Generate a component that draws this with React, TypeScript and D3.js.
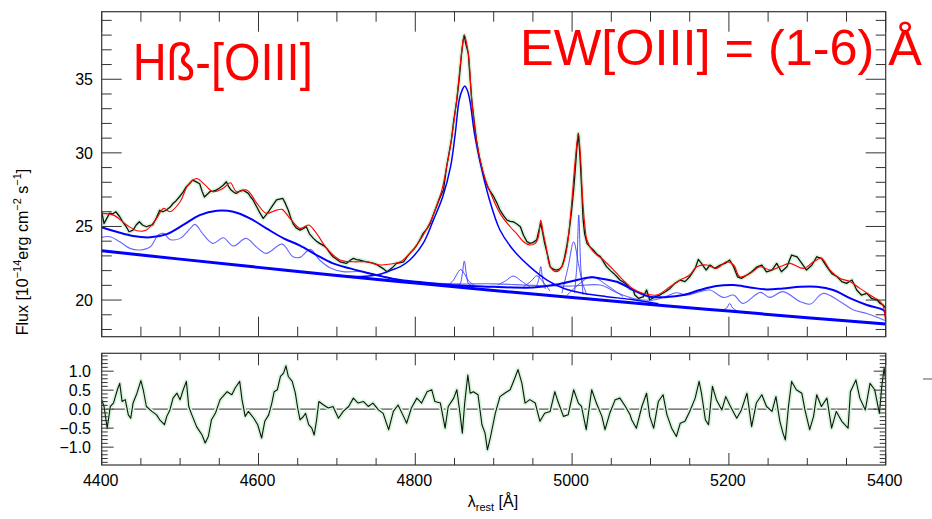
import React from 'react';
import * as d3 from 'd3';

type P = [number, number];

// ---------- axes / ticks ----------
const xDomain: [number, number] = [4400, 5400];
const fluxDomain: [number, number] = [17.51, 39.59];
const resDomain: [number, number] = [-1.47, 1.47];
const xMajorTicks = [4400, 4600, 4800, 5000, 5200, 5400];
const fluxMajorTicks = [20, 25, 30, 35];
const resMajorTicks = [-1.0, -0.5, 0.0, 0.5, 1.0];
const resTickLabels = ['\u22121.0', '\u22120.5', '0.0', '0.5', '1.0'];

// ---------- data ----------
const observed: P[] = [
  [4400, 26.0], [4403, 25.2], [4406, 25.5], [4410, 25.9], [4414, 25.85], [4418, 26.0], [4423, 25.66], [4427, 25.3],
  [4431, 25.0], [4435, 24.64], [4440, 24.75], [4444, 25.1], [4448, 25.32], [4452, 25.1], [4457, 24.98], [4461, 25.05],
  [4465, 25.1], [4470, 25.6], [4474, 26.1], [4478, 26.0], [4482, 26.1], [4487, 26.3], [4491, 26.56], [4495, 26.75],
  [4499, 27.0], [4504, 27.35], [4508, 27.7], [4512, 27.9], [4516, 28.15], [4520, 28.05], [4525, 27.9], [4528, 27.4],
  [4531, 27.0], [4535, 27.2], [4538, 27.36], [4542, 27.4], [4546, 27.47], [4550, 27.6], [4555, 27.8], [4559, 28.04],
  [4562, 27.7], [4565, 27.47], [4569, 27.3], [4572, 27.25], [4576, 27.4], [4580, 27.47], [4584, 27.35], [4587, 27.25],
  [4590, 27.0], [4593, 26.8], [4598, 26.3], [4602, 25.9], [4606, 25.55], [4610, 25.8], [4614, 26.1], [4619, 26.5],
  [4623, 26.8], [4627, 26.85], [4631, 26.9], [4634, 26.6], [4638, 26.1], [4641, 25.6], [4644, 25.2], [4648, 24.9],
  [4653, 24.75], [4657, 24.85], [4661, 24.98], [4665, 24.5], [4670, 24.19], [4674, 24.0], [4678, 23.85], [4683, 23.7],
  [4687, 23.51], [4691, 23.2], [4695, 22.94], [4700, 22.75], [4704, 22.6], [4708, 22.55], [4712, 22.49], [4717, 22.7],
  [4721, 22.83], [4725, 22.75], [4729, 22.72], [4734, 22.65], [4738, 22.6], [4743, 22.55], [4747, 22.49], [4751, 22.4],
  [4755, 22.27], [4760, 22.1], [4764, 21.93], [4768, 22.1], [4772, 22.27], [4776, 22.49], [4781, 22.55], [4785, 22.6],
  [4789, 22.9], [4793, 23.17], [4798, 23.45], [4802, 23.74], [4806, 24.1], [4810, 24.53], [4815, 24.85], [4819, 25.21],
  [4823, 25.8], [4827, 26.34], [4831, 26.9], [4836, 27.5], [4840, 29.06], [4846, 30.87], [4849, 32.2], [4853, 33.59],
  [4856, 35.0], [4859, 36.76], [4861, 37.6], [4862.5, 38.0], [4864, 37.5], [4867.6, 36.76], [4870, 35.0], [4872, 33.59],
  [4875, 32.2], [4878, 30.87], [4882, 29.6], [4888, 28.3], [4893, 27.6], [4900, 27.02], [4904, 26.6], [4908, 26.11],
  [4913, 25.7], [4917, 25.43], [4921, 25.35], [4925, 25.32], [4930, 25.15], [4934, 24.98], [4938, 24.4], [4942, 24.0],
  [4946, 23.85], [4950, 23.9], [4955, 24.1], [4958, 24.8], [4960, 25.2], [4962, 24.7], [4965, 23.85], [4969, 23.0],
  [4972, 22.27], [4976, 22.1], [4980, 22.04], [4984, 22.1], [4987, 22.27], [4990, 22.8], [4993, 23.6], [4996, 24.6],
  [4999, 25.89], [5002, 27.5], [5004, 28.83], [5006, 30.3], [5008, 31.32], [5010, 29.8], [5012, 27.8], [5014, 25.5],
  [5016, 24.5], [5019, 23.85], [5023, 23.6], [5027, 23.4], [5032, 23.1], [5036, 22.95], [5040, 22.6], [5044, 22.27],
  [5049, 22.0], [5053, 21.81], [5057, 21.6], [5061, 21.36], [5066, 21.2], [5070, 21.02], [5074, 20.75], [5078, 20.68],
  [5080, 20.34], [5085, 20.11], [5091, 20.23], [5095, 20.68], [5099, 20.0], [5106, 20.23], [5112, 20.34], [5119, 20.56],
  [5125, 20.79], [5131, 21.13], [5138, 21.36], [5144, 21.25], [5150, 21.58], [5157, 22.15], [5161, 22.76], [5165, 22.49],
  [5171, 22.04], [5176, 22.38], [5182, 22.15], [5189, 22.38], [5195, 22.49], [5201, 22.72], [5206, 22.26], [5211, 21.58],
  [5216, 21.47], [5223, 21.7], [5229, 21.92], [5236, 22.26], [5242, 22.38], [5248, 21.92], [5255, 22.04], [5261, 22.49],
  [5267, 21.92], [5274, 22.26], [5280, 23.06], [5287, 22.94], [5293, 22.49], [5299, 22.04], [5306, 22.38], [5312, 22.94],
  [5318, 22.83], [5325, 22.26], [5331, 21.81], [5338, 21.58], [5344, 21.25], [5350, 21.13], [5357, 21.36], [5363, 20.68],
  [5369, 20.34], [5376, 20.45], [5382, 20.11], [5389, 20.0], [5393, 19.77], [5397, 19.66], [5400, 19.43],
];

const modelTotal: P[] = [
  [4400, 25.89], [4415, 25.77], [4432, 25.1], [4445, 24.71], [4457, 24.76], [4470, 25.55], [4479, 26.23], [4487, 26.0],
  [4500, 26.68], [4510, 27.81], [4521, 28.26], [4532, 27.81], [4542, 27.36], [4555, 27.59], [4564, 27.97], [4572, 27.36],
  [4585, 27.47], [4598, 26.57], [4610, 25.89], [4623, 26.11], [4630, 26.16], [4640, 25.55], [4653, 24.87], [4664, 25.1],
  [4674, 24.53], [4687, 23.51], [4704, 22.72], [4721, 22.6], [4738, 22.6], [4755, 22.38], [4768, 22.45], [4781, 22.6],
  [4789, 22.95], [4800, 23.6], [4810, 24.4], [4820, 25.4], [4827, 26.4], [4834, 27.5], [4840, 29.06], [4846, 30.87],
  [4852.7, 33.59], [4859, 36.76], [4862.5, 38.0], [4867.6, 36.76], [4872, 33.59], [4878, 30.87], [4884.7, 29.06],
  [4890, 28.1], [4895, 27.4], [4908, 25.89], [4921, 24.98], [4929, 24.53], [4938, 23.96], [4946, 23.74], [4953, 23.85],
  [4957, 24.3], [4960, 25.43], [4963, 24.6], [4967, 23.6], [4972, 22.27], [4980, 21.93], [4987, 22.27], [4993, 23.4],
  [4999, 26.34], [5004, 29.51], [5008, 31.32], [5011, 29.5], [5013, 27.25], [5016, 25.2], [5019, 24.08], [5027, 23.28],
  [5040, 22.72], [5053, 22.04], [5065, 21.36], [5078, 20.75], [5091, 20.45], [5108, 20.34], [5125, 20.9], [5138, 21.36],
  [5150, 21.7], [5159, 22.26], [5172, 22.38], [5184, 22.15], [5197, 22.6], [5206, 22.38], [5214, 21.58], [5227, 21.81],
  [5240, 22.26], [5253, 22.04], [5265, 22.26], [5278, 22.49], [5295, 22.15], [5308, 22.6], [5318, 22.83], [5329, 22.04],
  [5342, 21.47], [5355, 21.25], [5367, 20.79], [5380, 20.34], [5393, 19.89], [5397, 19.55], [5399, 18.87], [5400, 18.6],
];

const powerLaw: P[] = [
  [4400, 23.35], [4500, 22.78], [4600, 22.22], [4700, 21.66], [4800, 21.15], [4900, 20.65], [5000, 20.17],
  [5100, 19.7], [5200, 19.25], [5300, 18.8], [5400, 18.37],
];

const pseudoContinuum: P[] = [
  [4400, 24.95], [4419, 24.64], [4440, 24.35], [4462, 24.26], [4483, 24.48], [4504, 25.1], [4525, 25.77], [4547, 26.07],
  [4568, 26.0], [4589, 25.55], [4610, 24.87], [4632, 24.19], [4653, 23.7], [4674, 23.06], [4695, 22.49], [4717, 22.15],
  [4738, 21.86], [4759, 21.59], [4781, 21.36], [4810, 21.2], [4850, 21.0], [4900, 20.9], [4950, 20.85], [4980, 21.05],
  [5005, 21.35], [5025, 21.55], [5036, 21.47], [5057, 21.24], [5078, 20.68], [5099, 20.23], [5121, 20.2], [5142, 20.34],
  [5163, 20.68], [5184, 20.95], [5206, 21.02], [5227, 20.86], [5248, 20.72], [5269, 20.79], [5291, 20.9], [5312, 20.9],
  [5333, 20.68], [5355, 20.11], [5376, 19.66], [5397, 19.32], [5400, 19.1],
];

const feTemplate: P[] = [
  [4400, 24.26], [4411, 24.3], [4423, 23.96], [4436, 23.51], [4449, 23.4], [4462, 23.62], [4472, 24.42], [4479, 24.53],
  [4487, 24.12], [4500, 24.19], [4513, 24.87], [4519, 25.14], [4530, 24.42], [4542, 23.85], [4555, 24.23], [4568, 23.67],
  [4584, 24.19], [4598, 23.58], [4610, 23.17], [4630, 23.8], [4644, 22.94], [4653, 22.9], [4666, 23.44], [4678, 22.72],
  [4691, 22.2], [4708, 21.93], [4730, 21.93], [4751, 21.7], [4781, 21.36], [4810, 21.2], [4850, 21.1], [4900, 21.1],
  [4950, 21.0], [5000, 20.95], [5036, 21.02], [5057, 20.5], [5078, 20.11], [5104, 20.0], [5120, 20.25], [5133, 20.5],
  [5146, 20.34], [5163, 20.57], [5176, 20.68], [5193, 20.18], [5206, 20.34], [5218, 19.77], [5240, 20.52], [5252, 20.18],
  [5269, 20.57], [5291, 19.89], [5304, 19.73], [5320, 20.45], [5342, 19.89], [5359, 19.32], [5376, 19.09], [5393, 18.75],
  [5400, 18.6],
];

const broadHb: P[] = [
  [4700, 21.68], [4730, 21.6], [4755, 21.75], [4768, 22.0], [4781, 22.27], [4793, 22.72], [4810, 23.85], [4823, 25.43],
  [4835, 27.02], [4845, 29.06], [4851, 31.33], [4856, 33.59], [4860, 34.3], [4863, 34.54], [4866, 34.3], [4869.5, 33.59],
  [4875.5, 31.33], [4884, 29.06], [4893.5, 27.02], [4908, 24.76], [4925, 23.4], [4946, 22.27], [4968, 21.36],
  [4989, 20.8], [5014, 20.46], [5044, 20.23], [5074, 20.05], [5110, 19.75],
];

const narrowHb: P[] = [[4852, 20.98], [4857, 21.1], [4860, 21.8], [4862.5, 22.65], [4865, 21.8], [4868, 21.1], [4873, 20.98]];
const interHb: P[] = [[4840, 20.98], [4848, 21.3], [4853, 21.75], [4858, 22.08], [4863, 21.75], [4868, 21.3], [4876, 20.98]];
const fe4924: P[] = [[4905, 21.02], [4915, 21.3], [4925, 21.63], [4935, 21.3], [4946, 20.9]];
const oiii4959Broad: P[] = [[4938, 20.9], [4948, 21.3], [4955, 21.65], [4962, 21.3], [4972, 20.6]];
const oiii4959Narrow: P[] = [[4954, 20.85], [4957.5, 21.4], [4960, 22.27], [4962.5, 21.4], [4966, 20.75]];
const oiii5007Broad: P[] = [[4987, 20.46], [4995, 22.27], [5002, 23.96], [5008, 22.49], [5013, 21.2], [5019, 20.34]];
const oiii5007Narrow: P[] = [[5003, 20.46], [5006, 22.3], [5008.5, 25.78], [5011, 22.3], [5014, 20.34]];
const fe5018: P[] = [[4993, 20.3], [5010, 21.13], [5025, 21.59], [5044, 21.02], [5065, 20.23]];
const line5200: P[] = [[5190, 19.3], [5197, 19.45], [5201, 19.77], [5205, 19.45], [5212, 19.22]];

const residual: P[] = [
  [4400, 0.25], [4403, 0.07], [4407, -0.5], [4411, 0.07], [4415, 0.16], [4420, 0.51], [4423, 0.68], [4426, 0.2],
  [4430, 0.25], [4434, -0.15], [4437, -0.24], [4440, 0.16], [4445, 0.42], [4450, 0.75], [4453, 0.51], [4457, 0.07],
  [4464, -0.06], [4470, -0.15], [4474, -0.28], [4480, -0.41], [4483, -0.19], [4487, -0.02], [4491, 0.29], [4496, 0.42],
  [4500, 0.25], [4504, 0.51], [4508, 0.73], [4511, 0.07], [4515, -0.15], [4521, -0.46], [4528, -0.68], [4532, -0.89],
  [4536, -0.72], [4540, -0.28], [4545, -0.11], [4551, 0.25], [4560, 0.46], [4566, 0.38], [4570, 0.55], [4576, 0.73],
  [4579, 0.25], [4583, -0.19], [4587, -0.06], [4594, -0.24], [4599, -0.41], [4604, -0.76], [4608, -0.32], [4613, -0.15],
  [4617, 0.16], [4620, 0.46], [4624, 0.51], [4628, 0.86], [4632, 0.95], [4635, 1.14], [4638, 0.86], [4643, 0.73],
  [4647, 0.42], [4650, 0.03], [4653, -0.28], [4657, -0.2], [4660, -0.11], [4664, -0.41], [4668, -0.5], [4671, -0.68],
  [4674, -0.3], [4677, 0.2], [4683, 0.11], [4689, 0.03], [4695, 0.07], [4702, -0.24], [4708, -0.06], [4715, 0.07],
  [4721, 0.29], [4727, 0.16], [4734, 0.2], [4740, 0.07], [4746, 0.16], [4753, -0.02], [4759, -0.11], [4766, -0.54],
  [4772, -0.06], [4778, 0.11], [4785, -0.19], [4789, -0.37], [4795, 0.03], [4802, 0.29], [4808, 0.16], [4815, 0.46],
  [4821, 0.51], [4825, 0.2], [4832, 0.16], [4838, -0.5], [4842, 0.07], [4849, 0.29], [4853, 0.51], [4857, -0.11],
  [4860, -0.63], [4863, 0.16], [4867, 0.9], [4870, 0.42], [4874, 0.46], [4880, 0.38], [4885, -0.41], [4889, -0.63],
  [4892, -1.07], [4896, -0.72], [4902, -0.11], [4908, 0.33], [4914, 0.42], [4921, 0.51], [4927, 0.82], [4931, 1.04],
  [4936, 0.68], [4940, 0.16], [4946, 0.25], [4953, 0.16], [4959, -0.32], [4965, -0.11], [4972, -0.06], [4978, 0.46],
  [4982, 0.2], [4989, -0.19], [4995, -0.15], [5002, 0.51], [5008, 0.16], [5012, 0.07], [5018, -0.54], [5025, 0.51],
  [5031, 0.16], [5038, -0.19], [5042, -0.54], [5048, -0.11], [5055, 0.25], [5061, 0.29], [5068, 0.07], [5074, -0.15],
  [5076, -0.28], [5082, -0.5], [5089, 0.07], [5095, 0.42], [5099, -0.19], [5104, -0.5], [5110, 0.2], [5116, 0.38],
  [5121, -0.15], [5127, -0.5], [5133, -0.72], [5138, -0.37], [5144, -0.32], [5150, -0.06], [5157, 0.29], [5162, 0.73],
  [5165, 0.42], [5170, -0.28], [5174, -0.41], [5179, 0.6], [5184, 0.25], [5191, -0.02], [5196, 0.33], [5202, 0.07],
  [5210, -0.24], [5216, -0.02], [5223, 0.42], [5229, -0.46], [5235, 0.16], [5242, 0.38], [5248, 0.07], [5255, -0.06],
  [5260, 0.33], [5265, -0.32], [5269, -0.63], [5272, -0.81], [5276, 0.07], [5280, 0.73], [5286, 0.51], [5293, 0.42],
  [5297, -0.02], [5303, -0.54], [5308, -0.19], [5312, 0.38], [5318, 0.07], [5325, 0.29], [5331, -0.5], [5337, -0.06],
  [5344, -0.32], [5352, -0.5], [5355, 0.46], [5362, 0.77], [5367, 0.29], [5374, -0.02], [5380, 0.68], [5386, 0.51],
  [5392, -0.11], [5395, 0.6], [5398, 1.08], [5400, 0.77],
];

// ---------- layout ----------
const W = 932, H = 519;
const X0 = 101.7, X1 = 885.7;
const T0 = 11.7, T1 = 336.7;
const B0 = 353.3, B1 = 465;
const FONT = "'Liberation Sans', Arial, Helvetica, sans-serif";
const AX = '#333';
const HALO = '#d6f6da';

export default function App() {
  const x = d3.scaleLinear().domain(xDomain).range([X0, X1]);
  const yF = d3.scaleLinear().domain(fluxDomain).range([T1, T0]);
  const yR = d3.scaleLinear().domain(resDomain).range([B1, B0]);

  const lin = d3.line<P>().x(d => x(d[0])).y(d => yF(d[1]));
  const smooth = d3.line<P>().x(d => x(d[0])).y(d => yF(d[1])).curve(d3.curveCatmullRom.alpha(0.5));
  const linR = d3.line<P>().x(d => x(d[0])).y(d => yR(d[1]));

  const xMinor = d3.range(xDomain[0], xDomain[1] + 1, 50);
  const fMinor = d3.range(18, 40, 1);
  const rMinor = d3.range(-14, 15, 1).map(v => v / 10);

  const isMajorX = (v: number) => xMajorTicks.includes(v);

  const smallComps = [narrowHb, interHb, fe4924, oiii4959Broad, oiii4959Narrow, oiii5007Broad, oiii5007Narrow, fe5018, line5200];

  return (
    <svg width={W} height={H} style={{ position: 'absolute', left: 0, top: 0, background: '#fff' }} fontFamily={FONT}>
      <defs>
        <clipPath id="clipTop"><rect x={X0} y={T0} width={X1 - X0} height={T1 - T0} /></clipPath>
        <clipPath id="clipBot"><rect x={X0} y={B0} width={X1 - X0} height={B1 - B0} /></clipPath>
      </defs>

      {/* top panel data */}
      <g clipPath="url(#clipTop)" fill="none">
        <path d={lin(observed)!} stroke={HALO} strokeWidth={4.5} strokeLinejoin="round" />
        <path d={lin(observed)!} stroke="#111" strokeWidth={1.3} strokeLinejoin="round" />
        <path d={smooth(feTemplate)!} stroke="#4d4dff" strokeWidth={1.1} opacity={0.85} />
        {smallComps.map((c, i) => (
          <path key={i} d={smooth(c)!} stroke="#3333ff" strokeWidth={1} opacity={0.85} />
        ))}
        <path d={smooth(broadHb)!} stroke="#0000ff" strokeWidth={1.5} />
        <path d={smooth(pseudoContinuum)!} stroke="#0000ff" strokeWidth={2} />
        <path d={smooth(powerLaw)!} stroke="#0000ff" strokeWidth={3} />
        <path d={smooth(modelTotal)!} stroke="#ff0000" strokeWidth={1.1} />
      </g>

      {/* bottom panel data */}
      <g clipPath="url(#clipBot)" fill="none">
        <line x1={X0} x2={X1} y1={yR(0)} y2={yR(0)} stroke="#555" strokeWidth={1.2} />
        <path d={linR(residual)!} stroke={HALO} strokeWidth={4.5} strokeLinejoin="round" />
        <path d={linR(residual)!} stroke="#111" strokeWidth={1.1} strokeLinejoin="round" />
      </g>

      {/* frames */}
      <rect x={X0} y={T0} width={X1 - X0} height={T1 - T0} fill="none" stroke={AX} strokeWidth={1.2} />
      <rect x={X0} y={B0} width={X1 - X0} height={B1 - B0} fill="none" stroke={AX} strokeWidth={1.2} />

      {/* top panel ticks */}
      <g stroke={AX} strokeWidth={1}>
        {xMinor.map(v => {
          const L = isMajorX(v) ? 20 : 10;
          return (
            <g key={'tx' + v}>
              <line x1={x(v)} x2={x(v)} y1={T1} y2={T1 - L} />
              <line x1={x(v)} x2={x(v)} y1={T0} y2={T0 + L} />
            </g>
          );
        })}
        {fMinor.map(v => {
          const L = fluxMajorTicks.includes(v) ? 20 : 10;
          return (
            <g key={'ty' + v}>
              <line x1={X0} x2={X0 + L} y1={yF(v)} y2={yF(v)} />
              <line x1={X1} x2={X1 - L} y1={yF(v)} y2={yF(v)} />
            </g>
          );
        })}
      </g>

      {/* bottom panel ticks */}
      <g stroke={AX} strokeWidth={1}>
        {xMinor.map(v => {
          const L = isMajorX(v) ? 12 : 7;
          return (
            <g key={'bx' + v}>
              <line x1={x(v)} x2={x(v)} y1={B1} y2={B1 - L} />
              <line x1={x(v)} x2={x(v)} y1={B0} y2={B0 + L} />
            </g>
          );
        })}
        {rMinor.map(v => {
          const L = resMajorTicks.some(m => Math.abs(m - v) < 1e-6) ? 12 : 6;
          return (
            <g key={'by' + v}>
              <line x1={X0} x2={X0 + L} y1={yR(v)} y2={yR(v)} />
              <line x1={X1} x2={X1 - L} y1={yR(v)} y2={yR(v)} />
            </g>
          );
        })}
      </g>

      {/* tick labels */}
      <g fontSize={16} fill="#000">
        {fluxMajorTicks.map(v => (
          <text key={'fl' + v} x={93} y={yF(v)} dy="0.36em" textAnchor="end">{v}</text>
        ))}
        {resMajorTicks.map((v, i) => (
          <text key={'rl' + v} x={91} y={yR(v)} dy="0.36em" textAnchor="end">{resTickLabels[i]}</text>
        ))}
        {xMajorTicks.map(v => (
          <text key={'xl' + v} x={x(v) - 1} y={486} textAnchor="middle">{v}</text>
        ))}
      </g>

      {/* axis titles */}
      <text x={493} y={507} textAnchor="middle" fontSize={16} fill="#000">
        λ<tspan fontSize={11} dy={4}>rest</tspan><tspan dy={-4}> [Å]</tspan>
      </text>
      <text transform="translate(28,252) rotate(-90)" textAnchor="middle" fontSize={16} fill="#000">
        Flux [10<tspan fontSize={11} dy={-7}>−14</tspan><tspan dy={7}>erg cm</tspan>
        <tspan fontSize={11} dy={-7}>−2</tspan><tspan dy={7}> s</tspan>
        <tspan fontSize={11} dy={-7}>−1</tspan><tspan dy={7}>]</tspan>
      </text>

      {/* annotations */}
      <text x={132.7} y={80} fontSize={52} fill="#ff0000" textLength={180} lengthAdjust="spacingAndGlyphs">Hß-[OIII]</text>
      <text x={520} y={65} fontSize={50} fill="#ff0000" textLength={402} lengthAdjust="spacingAndGlyphs">EW[OIII] = (1-6) Å</text>

      {/* stray mark at right edge */}
      <line x1={923} x2={932} y1={379} y2={379} stroke="#555" strokeWidth={1} />
    </svg>
  );
}
